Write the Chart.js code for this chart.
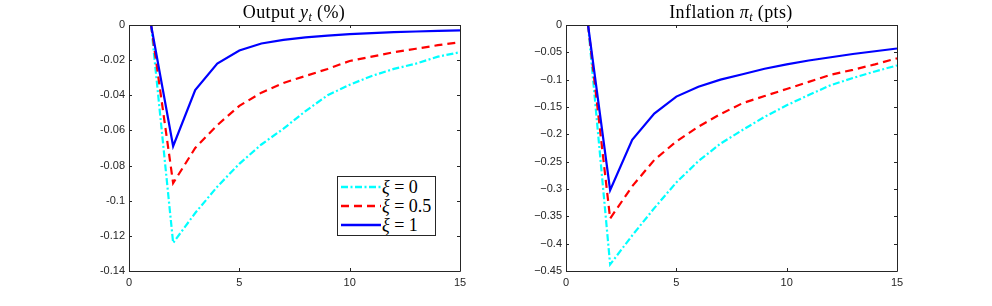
<!DOCTYPE html>
<html><head><meta charset="utf-8">
<script src="https://cdn.jsdelivr.net/npm/chart.js@4/dist/chart.umd.min.js"></script>
<style>
html,body{margin:0;padding:0;background:#fff;}
#wrap{position:relative;width:992px;height:306px;overflow:hidden;}
canvas{position:absolute;top:0;}
.title{position:absolute;top:1px;font-family:"Liberation Serif","DejaVu Serif",serif;font-size:18px;letter-spacing:0.4px;color:#000;white-space:nowrap;transform:translateX(-50%);line-height:22px;}
.title i{font-style:italic;}
.title sub{font-size:12px;font-style:italic;vertical-align:-3px;line-height:0;}
#legend{position:absolute;left:337px;top:176px;width:99px;height:60px;border:1px solid #262626;background:#fff;box-sizing:border-box;font-family:"Liberation Serif","DejaVu Serif",serif;font-size:18px;}
.row{position:absolute;left:0;height:20px;line-height:20px;white-space:nowrap;}
.row svg{position:absolute;left:2px;top:0;}
.row span{position:absolute;left:44px;top:0;}
</style></head><body>
<div id="wrap">
<canvas id="c1" width="496" height="306" style="left:0"></canvas>
<canvas id="c2" width="496" height="306" style="left:496px"></canvas>
<div class="title" style="left:294px">Output <i>y</i><sub>t</sub> (%)</div>
<div class="title" style="left:731px">Inflation <i>π</i><sub>t</sub> (pts)</div>
<div id="legend">
 <div class="row" style="top:0px"><svg width="42" height="20"><line x1="1" y1="10" x2="41" y2="10" stroke="#00ffff" stroke-width="2.5" stroke-dasharray="7,2.5,2,2.5"/></svg><span><i>ξ</i> = 0</span></div>
 <div class="row" style="top:19px"><svg width="42" height="20"><line x1="1" y1="10" x2="41" y2="10" stroke="#ff0000" stroke-width="2.5" stroke-dasharray="8,5"/></svg><span><i>ξ</i> = 0.5</span></div>
 <div class="row" style="top:38px"><svg width="42" height="20"><line x1="1" y1="10" x2="41" y2="10" stroke="#0000ff" stroke-width="2.5"/></svg><span><i>ξ</i> = 1</span></div>
</div>
</div>
<script>
// horizon (periods)
const periods = [1,2,3,4,5,6,7,8,9,10,11,12,13,14,15];
// Output y_t (%)
const outputXi0  = [0,-0.124,-0.107,-0.092,-0.079,-0.068,-0.059,-0.049,-0.040,-0.034,-0.029,-0.025,-0.022,-0.018,-0.0155];
const outputXi05 = [0,-0.090,-0.070,-0.057,-0.046,-0.0385,-0.033,-0.029,-0.025,-0.0205,-0.018,-0.0155,-0.0135,-0.0115,-0.0098];
const outputXi1  = [0,-0.069,-0.037,-0.022,-0.0145,-0.0105,-0.0085,-0.007,-0.006,-0.0052,-0.0046,-0.0041,-0.0037,-0.0034,-0.0031];
// Inflation pi_t (pts)
const inflXi0  = [0,-0.438,-0.385,-0.335,-0.288,-0.249,-0.217,-0.192,-0.168,-0.147,-0.128,-0.110,-0.097,-0.085,-0.074];
const inflXi05 = [0,-0.354,-0.295,-0.247,-0.213,-0.186,-0.163,-0.143,-0.130,-0.117,-0.104,-0.091,-0.082,-0.072,-0.061];
const inflXi1  = [0,-0.302,-0.210,-0.162,-0.131,-0.113,-0.100,-0.090,-0.080,-0.072,-0.065,-0.059,-0.053,-0.048,-0.043];
// tick labels
const xTicks = [0,5,10,15];
const outputYTicks = [0,-0.02,-0.04,-0.06,-0.08,-0.1,-0.12,-0.14];
const inflYTicks = [0,-0.05,-0.1,-0.15,-0.2,-0.25,-0.3,-0.35,-0.4,-0.45];
const seriesNames = ['ξ = 0','ξ = 0.5','ξ = 1'];

const AX = '#262626';
const boxPlugin = {
  id:'box',
  afterDatasetsDraw(chart){
    const {ctx, chartArea:a, scales} = chart;
    ctx.save();
    ctx.strokeStyle = AX; ctx.lineWidth = 1;
    ctx.beginPath();
    ctx.rect(Math.round(a.left)+0.5, Math.round(a.top)+0.5, Math.round(a.right-a.left), Math.round(a.bottom-a.top));
    ctx.stroke();
    const L = 3;
    ctx.beginPath();
    scales.x.ticks.forEach(t=>{
      const px = Math.round(scales.x.getPixelForValue(t.value))+0.5;
      ctx.moveTo(px, a.bottom); ctx.lineTo(px, a.bottom-L);
      ctx.moveTo(px, a.top); ctx.lineTo(px, a.top+L);
    });
    scales.y.ticks.forEach(t=>{
      const py = Math.round(scales.y.getPixelForValue(t.value))+0.5;
      ctx.moveTo(a.left, py); ctx.lineTo(a.left+L, py);
      ctx.moveTo(a.right, py); ctx.lineTo(a.right-L, py);
    });
    ctx.stroke();
    ctx.restore();
  }
};

function makeChart(id, series, yTicks, yWidth, padRight, minus){
  const colors = ['#00ffff','#ff0000','#0000ff'];
  const dashes = [[7,2.5,2,2.5],[8,5],[]];
  const datasets = series.map((vals,i)=>({
    label: seriesNames[i],
    data: periods.map((p,j)=>({x:p,y:vals[j]})),
    borderColor: colors[i], backgroundColor: colors[i],
    borderWidth: 2.2, borderDash: dashes[i], pointRadius: 0, tension: 0,
    order: 3-i
  }));
  const fmt = v => { let s = String(Number(v.toFixed(4))); return minus ? s.replace('-', '\u2212') : s; };
  return new Chart(document.getElementById(id), {
    type:'line',
    data:{datasets},
    plugins:[boxPlugin],
    options:{
      responsive:false, animation:false, devicePixelRatio:1,
      layout:{padding:{left:0,right:padRight,top:25,bottom:0}},
      plugins:{legend:{display:false}, tooltip:{enabled:false}, title:{display:false}},
      scales:{
        x:{type:'linear', min:0, max:15,
           afterBuildTicks(s){ s.ticks = xTicks.map(v=>({value:v})); },
           ticks:{padding:5, color:AX, font:{family:'"Liberation Sans", Arial, sans-serif', size:11}, maxRotation:0, autoSkip:false, callback:v=>String(v)},
           grid:{display:false, drawTicks:false}, border:{display:false},
           afterFit(s){ s.height = 35; }},
        y:{type:'linear', min:yTicks[yTicks.length-1], max:0,
           afterBuildTicks(s){ s.ticks = yTicks.map(v=>({value:v})); },
           ticks:{padding:4, color:AX, font:{family:'"Liberation Sans", Arial, sans-serif', size:11}, autoSkip:false, callback:v=>fmt(v)},
           grid:{display:false, drawTicks:false}, border:{display:false},
           afterFit(s){ s.width = yWidth; }}
      }
    }
  });
}
makeChart('c1', [outputXi0, outputXi05, outputXi1], outputYTicks, 129, 36, false);
makeChart('c2', [inflXi0, inflXi05, inflXi1], inflYTicks, 70, 95, true);
</script>
</body></html>
